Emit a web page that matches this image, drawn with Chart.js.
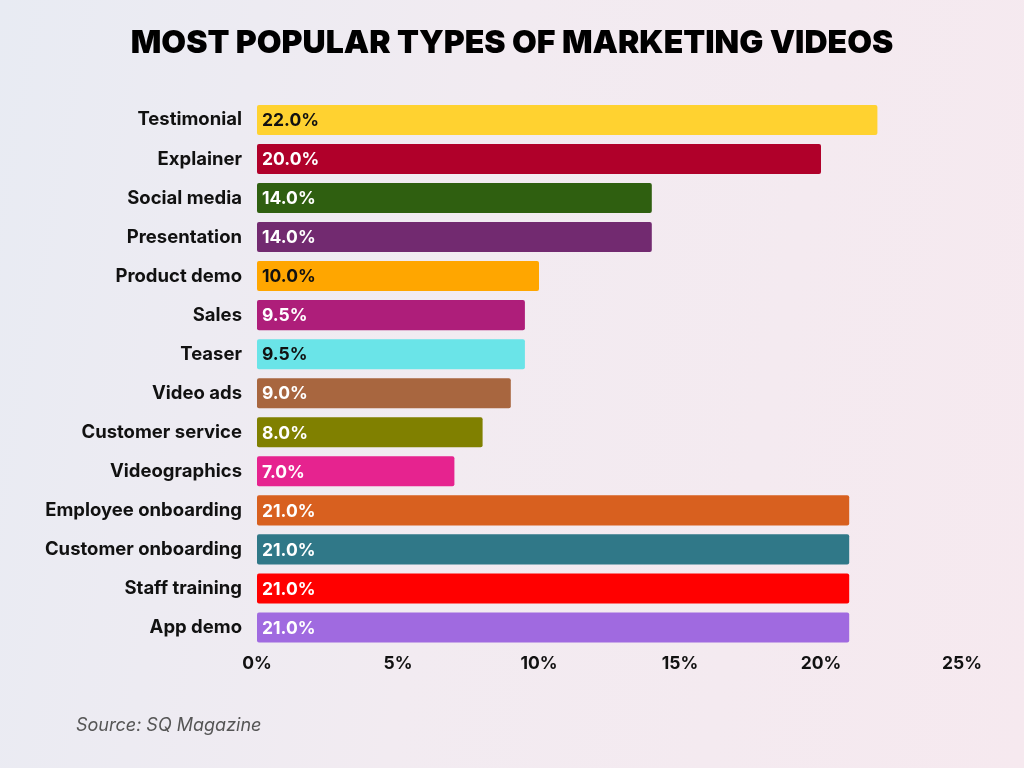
<!DOCTYPE html>
<html>
<head>
<meta charset="utf-8">
<script src="https://cdn.jsdelivr.net/npm/chart.js@4"></script>
<style>
  html, body { margin: 0; padding: 0; }
  body {
    width: 1024px; height: 768px; overflow: hidden;
    background: linear-gradient(100deg, #e8ebf3 0%, #f2ebf1 45%, #f6e9ef 100%);
  }
  #wrap { position: relative; width: 1024px; height: 768px; }
  #source {
    position: absolute; left: 76px; top: 714px;
    font: italic 18px Inter, sans-serif; color: #555;
  }
</style>
</head>
<body>
<div id="wrap">
  <canvas id="myChart" width="1024" height="768"></canvas>
  <div id="source">Source: SQ Magazine</div>
</div>
<script>
const categories = ['Testimonial','Explainer','Social media','Presentation','Product demo','Sales','Teaser','Video ads','Customer service','Videographics','Employee onboarding','Customer onboarding','Staff training','App demo'];
const shares = [22.0, 20.0, 14.0, 14.0, 10.0, 9.5, 9.5, 9.0, 8.0, 7.0, 21.0, 21.0, 21.0, 21.0];
const barColors = ['#ffd230','#b0002a','#2f5f10','#722a70','#ffa600','#ae1e7a','#6ae4e8','#a8663f','#808000','#e6238f','#d8601f','#307888','#ff0000','#a06ae0'];
const labelColors = ['#111','#fff','#fff','#fff','#111','#fff','#111','#fff','#fff','#fff','#fff','#fff','#fff','#fff'];
const xTicks = [0, 5, 10, 15, 20, 25];

// draws the value text inside each bar, near its left end
const barLabels = {
  id: 'barLabels',
  afterDatasetsDraw(chart) {
    const ctx = chart.ctx;
    const meta = chart.getDatasetMeta(0);
    ctx.save();
    ctx.font = 'bold 17.5px Inter';
    ctx.textBaseline = 'middle';
    ctx.textAlign = 'left';
    meta.data.forEach((bar, i) => {
      ctx.fillStyle = labelColors[i];
      ctx.fillText(shares[i].toFixed(1) + '%', bar.base + 5, bar.y + 1);
    });
    ctx.restore();
  }
};

const data = {
  labels: categories,
  datasets: [{
    data: shares,
    backgroundColor: barColors,
    borderRadius: 2,
    borderSkipped: false,
    barPercentage: 0.77,
    categoryPercentage: 1
  }]
};

const config = {
  type: 'bar',
  data: data,
  plugins: [barLabels],
  options: {
    indexAxis: 'y',
    responsive: false,
    animation: false,
    layout: { padding: { left: 0, right: 0, top: 18, bottom: 88 } },
    plugins: {
      legend: { display: false },
      tooltip: { enabled: false },
      title: {
        display: true,
        text: 'MOST POPULAR TYPES OF MARKETING VIDEOS',
        color: '#000',
        font: { family: 'Inter', size: 32, weight: '900' },
        padding: { top: 6, bottom: 38 }
      }
    },
    scales: {
      x: {
        min: 0,
        max: 25,
        afterBuildTicks: (scale) => { scale.ticks = xTicks.map(v => ({ value: v })); },
        grid: { display: false, drawTicks: false },
        border: { display: false },
        ticks: {
          padding: 6,
          color: '#111',
          font: { family: 'Inter', size: 17.5, weight: 'bold' },
          callback: (v) => v + '%'
        }
      },
      y: {
        afterFit: (scale) => { scale.width = 257; },
        grid: { display: false, drawTicks: false },
        border: { display: false },
        ticks: {
          padding: 15,
          color: '#111',
          font: { family: 'Inter', size: 18.5, weight: 'bold' }
        }
      },
      // empty right-hand spacer so the plot ends at 25% like the original
      spacer: {
        type: 'category',
        position: 'right',
        afterFit: (scale) => { scale.width = 62; },
        grid: { display: false, drawTicks: false },
        border: { display: false },
        ticks: { display: false }
      }
    }
  }
};

const myChart = new Chart(document.getElementById('myChart'), config);
</script>
</body>
</html>
